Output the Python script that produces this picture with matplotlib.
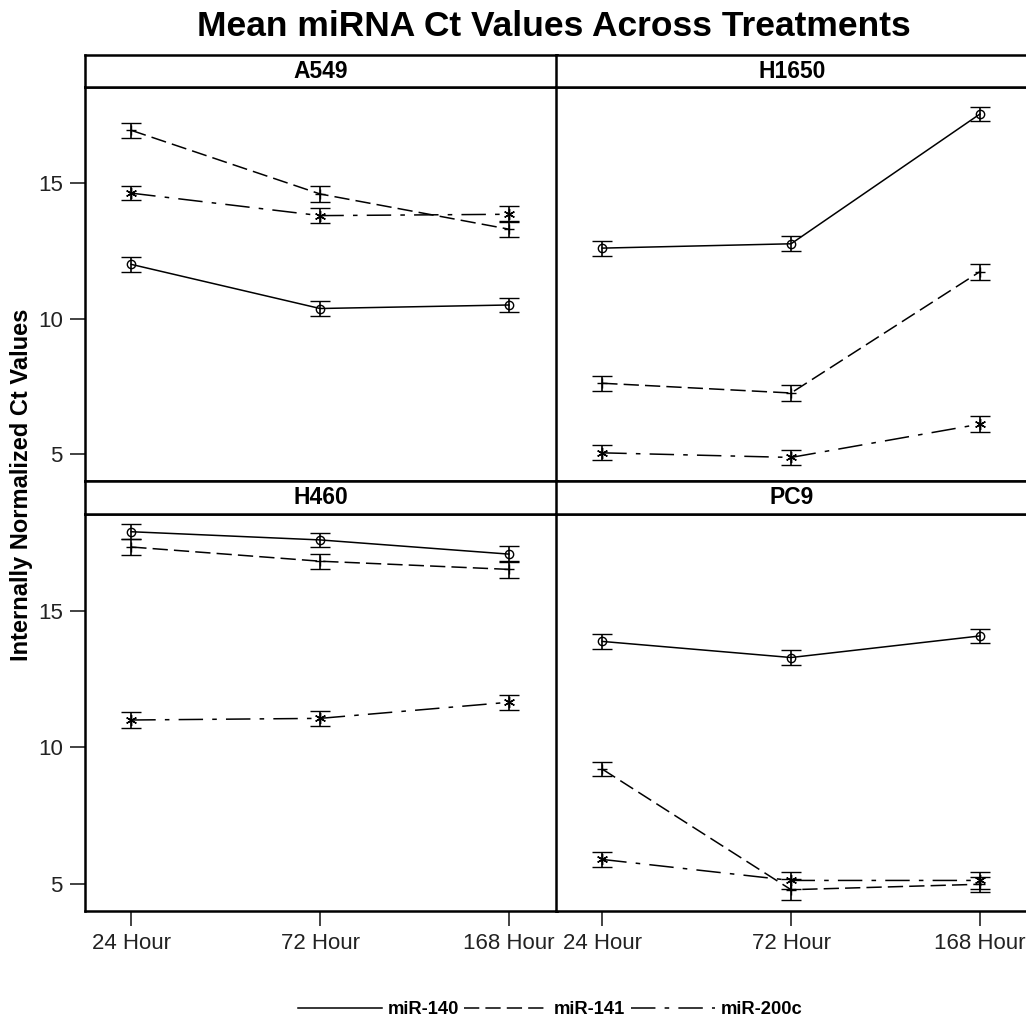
import matplotlib
matplotlib.use("Agg")
import matplotlib.pyplot as plt
from matplotlib.lines import Line2D
import numpy as np

plt.rcParams['font.family'] = ['Liberation Sans', 'DejaVu Sans']

# Time points and cell lines
times = ["24 Hour", "72 Hour", "168 Hour"]
cell_lines = ["A549", "H1650", "H460", "PC9"]
mirnas = ["miR-140", "miR-141", "miR-200c"]

# Mean internally normalized Ct values per cell line (rows follow mirnas)
a549_means = [[12.0, 10.37, 10.5],
              [16.95, 14.6, 13.3],
              [14.63, 13.8, 13.85]]
h1650_means = [[12.6, 12.76, 17.55],
               [7.61, 7.25, 11.73],
               [5.04, 4.87, 6.1]]
h460_means = [[17.9, 17.6, 17.08],
              [17.34, 16.82, 16.52],
              [11.0, 11.06, 11.65]]
pc9_means = [[13.88, 13.29, 14.08],
             [9.2, 4.78, 4.98],
             [5.89, 5.12, 5.12]]

# Standard errors (half-height of the error bars)
a549_err = [[0.27, 0.27, 0.27],
            [0.27, 0.30, 0.30],
            [0.27, 0.27, 0.30]]
h1650_err = [[0.28, 0.27, 0.27],
             [0.28, 0.30, 0.30],
             [0.28, 0.28, 0.30]]
h460_err = [[0.27, 0.27, 0.28],
            [0.28, 0.27, 0.30],
            [0.28, 0.27, 0.28]]
pc9_err = [[0.27, 0.27, 0.27],
           [0.27, 0.38, 0.27],
           [0.27, 0.30, 0.30]]

y_ticks = [5, 10, 15]

panel_means = [a549_means, h1650_means, h460_means, pc9_means]
panel_errs = [a549_err, h1650_err, h460_err, pc9_err]

styles = {
    "miR-140": dict(ls="-", marker="o", ms=6, mfc="none"),
    "miR-141": dict(ls=(0, (10, 4)), marker="+", ms=7, mfc="none"),
    "miR-200c": dict(ls=(0, (16, 6, 3, 6)), marker=(6, 2, 0), ms=8, mfc="none"),
}

fig = plt.figure(figsize=(10.26, 10.31), dpi=100)

W, H = 1026.0, 1031.0
def fx(px):
    return px / W
def fy(py):
    return 1 - py / H

col_x = [85, 556]
col_w = 472
rows = [(87, 481, 55), (514, 911, 481)]  # plot top, plot bottom, strip top

x = np.arange(len(times))
axes = []
for i, (name, means, errs) in enumerate(zip(cell_lines, panel_means, panel_errs)):
    r, c = divmod(i, 2)
    top, bot, strip_top = rows[r]
    ax = fig.add_axes([fx(col_x[c]), fy(bot), fx(col_w), (bot - top) / H])
    sax = fig.add_axes([fx(col_x[c]), fy(top), fx(col_w), (top - strip_top) / H])
    for k, m in enumerate(mirnas):
        st = styles[m]
        ax.errorbar(x, means[k], yerr=errs[k], color="black", lw=1.1,
                    ls=st["ls"], marker=st["marker"], ms=st["ms"],
                    mfc=st["mfc"], mec="black", mew=1.0,
                    ecolor="black", elinewidth=1.2, capsize=7, capthick=1.4)
    ax.set_xlim(-0.245, 2.255)
    ax.set_ylim(4.0, 18.55)
    ax.set_yticks(y_ticks)
    ax.set_xticks(x)
    ax.tick_params(axis="both", direction="out", length=11, width=1.2,
                   labelsize=16, pad=5, color="#222222", labelcolor="#222222")
    if r == 1:
        ax.set_xticklabels(times)
    else:
        ax.tick_params(axis="x", bottom=False, labelbottom=False)
    if c == 1:
        ax.tick_params(axis="y", left=False, labelleft=False)
    for s in ax.spines.values():
        s.set_linewidth(1.8)
    sax.set_xticks([])
    sax.set_yticks([])
    for s in sax.spines.values():
        s.set_linewidth(1.8)
    sax.text(0.5, 0.5, name, ha="center", va="center", fontsize=16.5,
             fontweight="bold", transform=sax.transAxes)
    axes.append(ax)

fig.text(fx(554), fy(27), "Mean miRNA Ct Values Across Treatments",
         ha="center", va="center", fontsize=25.5, fontweight="bold")
fig.text(fx(22), fy(485), "Internally Normalized Ct Values", rotation=90,
         ha="center", va="center", fontsize=17, fontweight="bold")

handles = [Line2D([], [], color="black", lw=1.1, ls=styles[m]["ls"]) for m in mirnas]
leg = fig.legend(handles, mirnas, loc="center", bbox_to_anchor=(fx(550), fy(1010)),
                 ncol=3, frameon=False, handlelength=4.6, columnspacing=0.3,
                 handletextpad=0.3, prop=dict(weight="bold", size=13.2))

fig.savefig("out.png", dpi=100)
